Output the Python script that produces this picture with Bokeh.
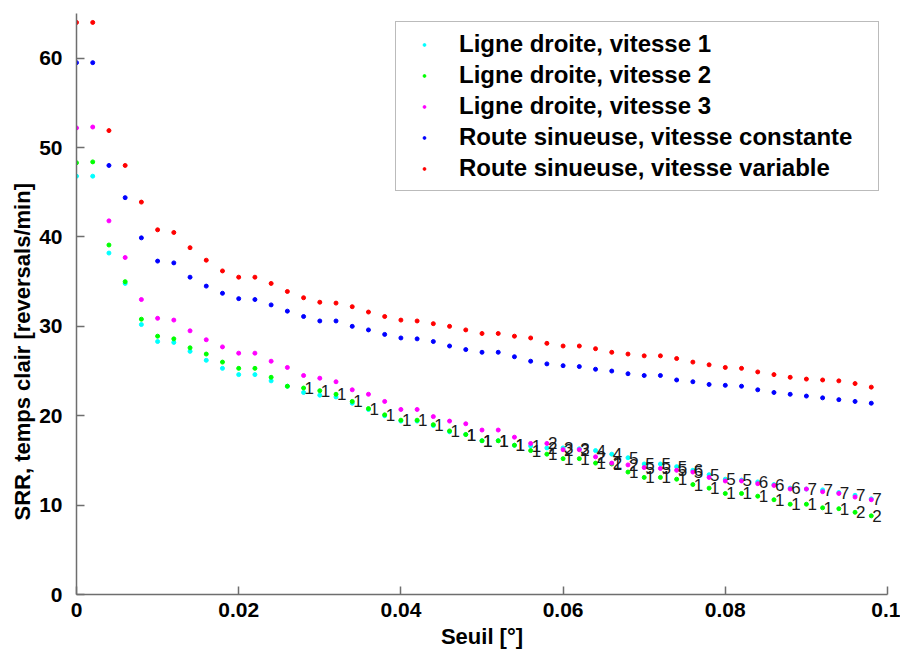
from bokeh.plotting import figure
from bokeh.models import ColumnDataSource, Legend, LegendItem, Range1d, FixedTicker, Title
from bokeh.embed import file_html
from bokeh.resources import INLINE
from bokeh.core.properties import value

# ---------------- data ----------------
seuil = [0.000, 0.002, 0.004, 0.006, 0.008, 0.010, 0.012, 0.014, 0.016, 0.018,
         0.020, 0.022, 0.024, 0.026, 0.028, 0.030, 0.032, 0.034, 0.036, 0.038,
         0.040, 0.042, 0.044, 0.046, 0.048, 0.050, 0.052, 0.054, 0.056, 0.058,
         0.060, 0.062, 0.064, 0.066, 0.068, 0.070, 0.072, 0.074, 0.076, 0.078,
         0.080, 0.082, 0.084, 0.086, 0.088, 0.090, 0.092, 0.094, 0.096, 0.098]

ligne_v1 = [46.8, 46.8, 38.2, 34.8, 30.2, 28.3, 28.2, 27.2, 26.2, 25.3,
            24.6, 24.6, 23.9, 23.3, 22.6, 22.3, 22.1, 21.4, 20.7, 20.0,
            19.4, 19.4, 18.9, 18.2, 17.9, 17.2, 17.2, 16.7, 16.6, 16.4,
            16.4, 16.3, 16.1, 15.7, 15.3, 14.6, 14.6, 14.3, 13.9, 13.4,
            12.9, 12.8, 12.6, 12.3, 11.9, 11.8, 11.7, 11.4, 11.1, 10.7]

ligne_v2 = [48.3, 48.4, 39.1, 35.0, 30.8, 28.9, 28.6, 27.6, 26.9, 26.0,
            25.3, 25.3, 24.3, 23.3, 23.1, 22.8, 22.4, 21.6, 20.8, 20.1,
            19.5, 19.5, 19.0, 18.3, 17.9, 17.2, 17.2, 16.7, 16.1, 15.7,
            15.2, 15.2, 14.7, 14.6, 13.7, 13.1, 13.1, 12.9, 12.3, 11.9,
            11.3, 11.3, 11.0, 10.6, 10.1, 10.1, 9.7, 9.6, 9.2, 8.8]

ligne_v3 = [52.2, 52.3, 41.8, 37.7, 33.0, 30.9, 30.7, 29.5, 28.5, 27.7,
            27.0, 27.0, 26.1, 25.4, 24.5, 24.2, 23.8, 22.9, 22.4, 21.6,
            20.7, 20.7, 19.9, 19.4, 19.1, 18.4, 18.4, 17.6, 16.9, 16.9,
            16.2, 16.2, 15.4, 14.7, 14.5, 14.2, 14.1, 13.9, 13.7, 13.1,
            12.7, 12.7, 12.4, 12.2, 11.8, 11.8, 11.5, 11.3, 10.9, 10.6]

route_const = [59.5, 59.5, 48.0, 44.4, 39.9, 37.3, 37.1, 35.5, 34.5, 33.7,
               33.1, 33.0, 32.4, 31.7, 31.1, 30.6, 30.6, 30.0, 29.6, 29.1,
               28.7, 28.6, 28.3, 27.8, 27.4, 27.1, 27.1, 26.6, 26.1, 25.8,
               25.6, 25.5, 25.2, 25.0, 24.7, 24.5, 24.5, 24.0, 23.8, 23.5,
               23.4, 23.3, 22.9, 22.6, 22.4, 22.2, 22.0, 21.8, 21.6, 21.4]

route_var = [64.0, 64.0, 51.9, 48.0, 43.9, 40.8, 40.5, 38.8, 37.4, 36.2,
             35.5, 35.5, 34.8, 33.9, 33.2, 32.7, 32.6, 32.2, 31.6, 31.1,
             30.7, 30.6, 30.3, 30.0, 29.6, 29.2, 29.2, 28.9, 28.7, 28.1,
             27.8, 27.8, 27.5, 27.1, 26.9, 26.7, 26.7, 26.4, 26.0, 25.7,
             25.4, 25.3, 24.9, 24.6, 24.3, 24.1, 24.0, 23.9, 23.6, 23.2]

# point annotations (numbers written next to the dots)
lab_v1 = [""] * 24 + ["1", "1", "1", "1", "1", "2", "3", "3", "4", "4", "5", "5", "5",
                      "5", "6", "5", "5", "5", "6", "6", "6", "7", "7", "7", "7", "7"]
lab_v3 = [""] * 29 + ["2", "2", "2", "2", "2", "2", "5", "5", "5", "5"] + [""] * 11
lab_v2 = [""] * 14 + ["1"] * 34 + ["2", "2"]

series_names = ["Ligne droite, vitesse 1", "Ligne droite, vitesse 2",
                "Ligne droite, vitesse 3", "Route sinueuse, vitesse constante",
                "Route sinueuse, vitesse variable"]
series_values = [ligne_v1, ligne_v2, ligne_v3, route_const, route_var]
series_colors = ["#00FFFF", "#00FF00", "#FF00FF", "#0000FF", "#FF0000"]

xtick_values = [0, 0.02, 0.04, 0.06, 0.08, 0.1]
xtick_labels = ["0", "0.02", "0.04", "0.06", "0.08", "0.1"]
ytick_values = [0, 10, 20, 30, 40, 50, 60]

FONT = "Liberation Sans"

# ---------------- figure ----------------
p = figure(width=900, height=653, output_backend="svg", toolbar_location=None,
           x_range=Range1d(0, 0.1), y_range=Range1d(0, 65),
           min_border_left=76, min_border_right=13, min_border_top=13,
           min_border_bottom=59)
p.outline_line_color = None
p.xgrid.visible = False
p.ygrid.visible = False
p.background_fill_color = "white"
p.border_fill_color = "white"

renderers = []
for name, vals, col in zip(series_names, series_values, series_colors):
    src = ColumnDataSource(dict(x=seuil, y=vals))
    r = p.scatter("x", "y", source=src, size=4, fill_color=col, line_color=col)
    renderers.append(r)

for labs, vals in [(lab_v2, ligne_v2), (lab_v3, ligne_v3), (lab_v1, ligne_v1)]:
    tsrc = ColumnDataSource(dict(x=seuil, y=vals, t=labs))
    p.text("x", "y", text="t", source=tsrc, text_font=value(FONT),
           text_font_size="17px", text_align="left", text_baseline="middle",
           x_offset=1, text_color="#1a1a1a")

# axes
for ax in (p.xaxis[0], p.yaxis[0]):
    ax.axis_line_color = "#6e6e6e"
    ax.axis_line_width = 1.5
    ax.major_tick_line_color = "#6e6e6e"
    ax.major_tick_line_width = 1.5
    ax.major_tick_in = 8
    ax.major_tick_out = 0
    ax.minor_tick_line_color = None
    ax.major_label_text_font = FONT
    ax.major_label_text_font_style = "bold"
    ax.major_label_text_font_size = "21px"
    ax.major_label_text_color = "black"
    ax.axis_label_text_font = FONT
    ax.axis_label_text_font_style = "bold"
    ax.axis_label_text_font_size = "22px"
    ax.axis_label_text_color = "black"

p.xaxis[0].ticker = FixedTicker(ticks=xtick_values)
p.xaxis[0].major_label_overrides = {v: l for v, l in zip(xtick_values, xtick_labels)}
p.xaxis[0].major_label_standoff = 8
p.xaxis[0].axis_label = "Seuil [°]"
p.xaxis[0].axis_label_standoff = 4

p.yaxis[0].ticker = FixedTicker(ticks=ytick_values)
p.yaxis[0].major_label_standoff = 14

ytitle = Title(text="SRR, temps clair [reversals/min]", align="left", offset=74,
               text_font=FONT, text_font_style="bold", text_font_size="22px",
               text_color="black", standoff=4)
p.add_layout(ytitle, "left")

legend = Legend(items=[LegendItem(label=n, renderers=[r]) for n, r in zip(series_names, renderers)],
                location="top_right", margin=8, padding=8, spacing=3,
                label_height=27, glyph_height=7, glyph_width=40, label_standoff=15,
                label_width=411, border_line_color="#777777", border_line_width=1.5,
                label_text_font=FONT, label_text_font_style="bold",
                label_text_font_size="24px", label_text_color="black",
                background_fill_color="white", background_fill_alpha=1.0)
p.add_layout(legend)

open("out.html", "w").write(file_html(p, INLINE))
